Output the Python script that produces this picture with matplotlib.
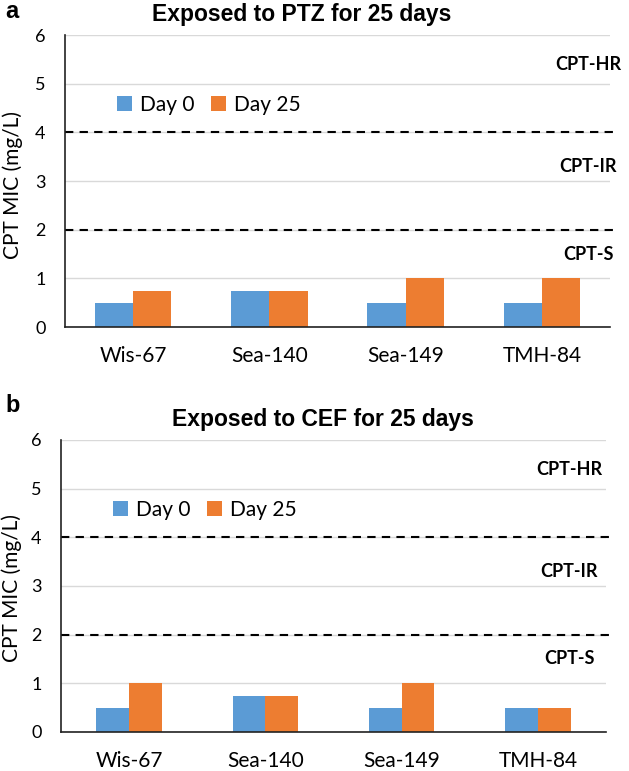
import matplotlib
matplotlib.use('Agg')
import matplotlib.pyplot as plt
import numpy as np

# data
strains = ['Wis-67', 'Sea-140', 'Sea-149', 'TMH-84']
series_names = ['Day 0', 'Day 25']
ptz_day0 = [0.5, 0.75, 0.5, 0.5]
ptz_day25 = [0.75, 0.75, 1.0, 1.0]
cef_day0 = [0.5, 0.75, 0.5, 0.5]
cef_day25 = [1.0, 0.75, 1.0, 0.5]
cutoffs = [2, 4]
zone_labels = ['CPT-S', 'CPT-IR', 'CPT-HR']
zone_y = [1.5, 3.3, 5.4]
y_ticks = [0, 1, 2, 3, 4, 5, 6]

colors = ['#5B9BD5', '#ED7D31']
tick_font = 'Lato'
title_font = 'Liberation Sans'


def draw_panel(ax, day0, day25, width, text_x):
    x = np.arange(len(strains))
    ax.bar(x - width / 2, day0, width, color=colors[0], label=series_names[0], zorder=3)
    ax.bar(x + width / 2, day25, width, color=colors[1], label=series_names[1], zorder=3)
    ax.set_xlim(-0.5, len(strains) - 0.5)
    ax.set_ylim(0, 6)
    ax.set_yticks(y_ticks)
    ax.yaxis.grid(True, color='#d9d9d9', linewidth=1.0, zorder=0)
    ax.set_axisbelow(True)
    for c in cutoffs:
        ax.plot([-0.5, len(strains) - 0.47], [c, c], color='black', linestyle=(0, (4, 3)),
                linewidth=1.5, clip_on=False, zorder=4)
    for lab, yv in zip(zone_labels, zone_y):
        ax.text(text_x, yv, lab, ha='center', va='center', fontsize=13,
                fontweight='bold', family=tick_font)
    ax.set_xticks(x)
    ax.set_xticklabels(strains, fontsize=15, family=tick_font)
    for t in ax.get_yticklabels():
        t.set_fontsize(13)
        t.set_family(tick_font)
    ax.tick_params(axis='x', length=0, pad=14)
    ax.tick_params(axis='y', length=0, pad=14)
    for s in ['top', 'right']:
        ax.spines[s].set_visible(False)
    for s in ['left', 'bottom']:
        ax.spines[s].set_color('#222222')
        ax.spines[s].set_linewidth(1.2)
        ax.spines[s].set_zorder(5)
    leg = ax.legend(loc='center left', bbox_to_anchor=(0.08, 4.56 / 6), ncol=2, frameon=False,
                    prop={'family': tick_font, 'size': 15}, handlelength=0.7, handleheight=0.7,
                    handletextpad=0.4, columnspacing=0.8, borderaxespad=0)
    return leg


fig = plt.figure(figsize=(6.29, 7.71), dpi=100)
ax_a = fig.add_axes([65 / 629, 1 - 327 / 771, 545 / 629, 292 / 771])
ax_b = fig.add_axes([61 / 629, 1 - 732 / 771, 545 / 629, 292 / 771])

draw_panel(ax_a, ptz_day0, ptz_day25, 0.28, 3.34)
draw_panel(ax_b, cef_day0, cef_day25, 0.24, 3.23)

fig.text(302 / 629, 1 - 15 / 771, 'Exposed to PTZ for 25 days', ha='center', va='center',
         fontsize=16.5, fontweight='bold', family=title_font)
fig.text(323 / 629, 1 - 420 / 771, 'Exposed to CEF for 25 days', ha='center', va='center',
         fontsize=16.5, fontweight='bold', family=title_font)
fig.text(5 / 629, 1 - 12 / 771, 'a', ha='left', va='center', fontsize=17,
         fontweight='bold', family=title_font)
fig.text(5 / 629, 1 - 405 / 771, 'b', ha='left', va='center', fontsize=17,
         fontweight='bold', family=title_font)
fig.text(13 / 629, 1 - 185 / 771, 'CPT MIC (mg/L)', rotation=90, ha='center', va='center',
         fontsize=15, family=tick_font)
fig.text(12 / 629, 1 - 588 / 771, 'CPT MIC (mg/L)', rotation=90, ha='center', va='center',
         fontsize=15, family=tick_font)

plt.savefig('out.png', dpi=100)
plt.close()
